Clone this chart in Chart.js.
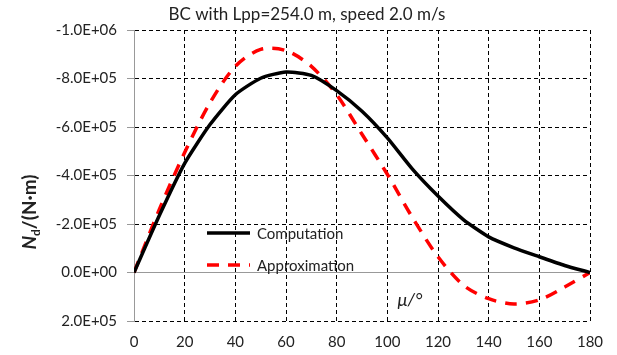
<!DOCTYPE html>
<html>
<head>
<meta charset="utf-8">
<script src="https://cdn.jsdelivr.net/npm/chart.js@4"></script>
<style>
body { margin: 0; background: #fff; }
canvas { display: block; }
</style>
</head>
<body>
<canvas id="chartCanvas" width="617" height="355"></canvas>
<script>
var titleText = "BC with Lpp=254.0 m, speed 2.0 m/s";
var seriesNames = ["Computation", "Approximation"];
var angles = [0, 10, 20, 30, 40, 50, 60, 70, 80, 90, 100, 110, 120, 130, 140, 150, 160, 170, 180];
var computation = [0, -2.35e5, -4.5e5, -6.1e5, -7.33e5, -8.01e5, -8.27e5, -8.13e5, -7.5e5, -6.65e5,
                   -5.55e5, -4.25e5, -3.15e5, -2.18e5, -1.47e5, -1.02e5, -0.65e5, -0.29e5, 0];
var approximation = [0, -2.6e5, -4.95e5, -7.0e5, -8.5e5, -9.2e5, -9.15e5, -8.5e5, -7.33e5, -5.7e5,
                     -4.05e5, -2.25e5, -0.65e5, 0.52e5, 1.08e5, 1.3e5, 1.13e5, 0.6e5, 0];
var xTicks = [0, 180, 20];          // min, max, step
var yTicks = [-1.0e6, 2.0e5, 2.0e5]; // min, max, step

var textColor = "#222";
var fontName = "Lato, 'Open Sans', sans-serif";

function toPoints(xs, ys) {
    var arr = [];
    for (var i = 0; i < xs.length; i++) {
        arr.push({ x: xs[i], y: ys[i] });
    }
    return arr;
}

// Excel style scientific label, e.g. -8.0E+05
function sciLabel(v) {
    if (Math.abs(v) < 1e-6) return "0.0E+00";
    var e = Math.floor(Math.log10(Math.abs(v)) + 1e-9);
    var m = v / Math.pow(10, e);
    var es = (e < 0 ? "-" : "+") + ("0" + Math.abs(e)).slice(-2);
    return m.toFixed(1) + "E" + es;
}

var textPlugin = {
    id: "textPlugin",
    afterDraw: function(chart) {
        var ctx = chart.ctx;
        ctx.save();
        ctx.fillStyle = textColor;
        ctx.textBaseline = "middle";

        // title
        ctx.font = "17px " + fontName;
        ctx.textAlign = "center";
        ctx.fillText(titleText, 307, 15);

        // y axis title: N_d/(N·m)
        ctx.translate(30, 212);
        ctx.rotate(-Math.PI / 2);
        var p1 = "N", p2 = "d", p3 = "/(N\u00b7m)";
        ctx.font = "italic bold 19px " + fontName;
        var w1 = ctx.measureText(p1).width;
        ctx.font = "bold 12px " + fontName;
        var w2 = ctx.measureText(p2).width;
        ctx.font = "bold 19px " + fontName;
        var w3 = ctx.measureText(p3).width;
        var sx = -(w1 + w2 + w3) / 2;
        ctx.textAlign = "left";
        ctx.font = "italic bold 19px " + fontName;
        ctx.fillText(p1, sx, 0);
        ctx.font = "bold 12px " + fontName;
        ctx.fillText(p2, sx + w1, 6);
        ctx.font = "bold 19px " + fontName;
        ctx.fillText(p3, sx + w1 + w2, 0);
        ctx.setTransform(1, 0, 0, 1, 0, 0);

        // x axis title inside plot
        ctx.font = "italic 18px " + fontName;
        ctx.textAlign = "center";
        ctx.fillText("\u03bc/\u00b0", 410, 300);

        // legend
        var sets = chart.data.datasets;
        var rows = [233, 265];
        for (var i = 0; i < sets.length; i++) {
            ctx.beginPath();
            ctx.strokeStyle = sets[i].borderColor;
            ctx.lineWidth = sets[i].borderWidth;
            ctx.setLineDash(sets[i].borderDash || []);
            ctx.moveTo(207, rows[i]);
            ctx.lineTo(250, rows[i]);
            ctx.stroke();
            ctx.setLineDash([]);
            ctx.font = "15px " + fontName;
            ctx.textAlign = "left";
            ctx.fillStyle = textColor;
            ctx.fillText(sets[i].label, 257, rows[i] + 1);
        }
        ctx.restore();
    }
};

var chart = new Chart(document.getElementById("chartCanvas").getContext("2d"), {
    type: "line",
    data: {
        datasets: [
            {
                label: seriesNames[0],
                data: toPoints(angles, computation),
                borderColor: "#000",
                borderWidth: 3.5,
                pointRadius: 0,
                tension: 0.2,
                fill: false
            },
            {
                label: seriesNames[1],
                data: toPoints(angles, approximation),
                borderColor: "#ff0000",
                borderWidth: 3.5,
                borderDash: [12, 9],
                pointRadius: 0,
                tension: 0.3,
                fill: false
            }
        ]
    },
    options: {
        responsive: false,
        animation: false,
        devicePixelRatio: 1,
        layout: { padding: { left: 0, right: 27, top: 30, bottom: 0 } },
        plugins: {
            legend: { display: false },
            title: { display: false },
            tooltip: { enabled: false }
        },
        scales: {
            x: {
                type: "linear",
                min: xTicks[0],
                max: xTicks[1],
                ticks: {
                    stepSize: xTicks[2],
                    color: textColor,
                    font: { family: fontName, size: 15 },
                    padding: 12,
                    maxRotation: 0
                },
                grid: {
                    color: function(c) { return c.tick && c.tick.value === 0 ? "rgba(0,0,0,0)" : "#000"; },
                    lineWidth: 1,
                    drawTicks: false
                },
                border: { display: false, dash: [4, 3] },
                afterFit: function(scale) { scale.height = 34; }
            },
            y: {
                reverse: true,
                min: yTicks[0],
                max: yTicks[1],
                ticks: {
                    stepSize: yTicks[2],
                    color: textColor,
                    font: { family: fontName, size: 15 },
                    padding: 10,
                    callback: function(v) { return sciLabel(v); }
                },
                grid: {
                    color: function(c) { return c.tick && c.tick.value === 0 ? "#999" : "#000"; },
                    lineWidth: 1,
                    tickLength: 7,
                    tickColor: "#999",
                    tickBorderDash: []
                },
                border: {
                    display: true,
                    color: "#999",
                    width: 1,
                    dash: function(c) { return c.tick && c.tick.value === 0 ? [] : [4, 3]; }
                },
                afterFit: function(scale) { scale.width = 134; }
            }
        }
    },
    plugins: [textPlugin]
});
</script>
</body>
</html>
